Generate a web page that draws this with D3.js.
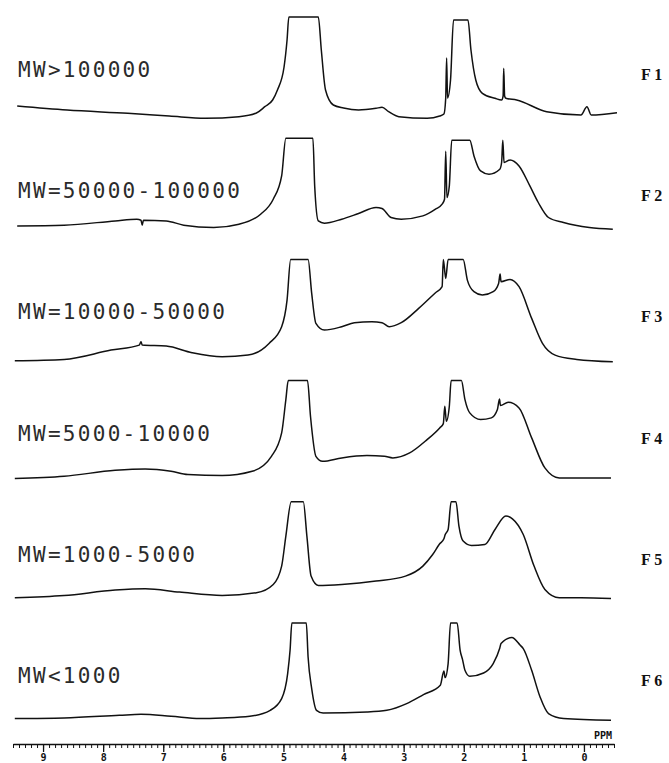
<!DOCTYPE html>
<html>
<head>
<meta charset="utf-8">
<script src="https://cdn.jsdelivr.net/npm/d3@7"></script>
<style>
  html, body { margin: 0; padding: 0; background: #fff; }
  svg { display: block; }
</style>
</head>
<body>
<svg id="chart" width="669" height="763"></svg>
<script>
// 1H NMR spectra of six molecular-weight fractions (relative intensity vs. chemical shift, ppm).
// Each series is a list of [ppm, intensity]; intensity 103 is the plotter's full-scale (clipped) level.

const fractionIds = ["F 1", "F 2", "F 3", "F 4", "F 5", "F 6"];
const fractionLabels = ["MW>100000", "MW=50000-100000", "MW=10000-50000", "MW=5000-10000", "MW=1000-5000", "MW<1000"];

const f1 = [
  [9.43,14],[8.6,10],[7.59,6.7],[6.9,4],[6.30,1.7],[5.74,3.3],[5.45,7],[5.31,13.3],[5.18,20],[5.10,30],
  [4.99,53],[4.94,80],[4.91,103],[4.42,103],[4.37,70],[4.30,30],[4.17,15],[4.0,12],[3.75,10],[3.46,11.7],
  [3.36,12.7],[3.25,8.3],[3.08,3.3],[2.61,1.7],[2.40,4],[2.33,6],[2.30,22],[2.285,62],[2.27,22],[2.22,40],
  [2.17,100],[1.93,100],[1.88,70],[1.80,40],[1.69,26.7],[1.48,21.7],[1.37,20],[1.345,24],[1.335,51.7],[1.32,24],
  [1.30,21.7],[1.12,20],[0.62,8.3],[0.05,5],[-0.05,13.3],[-0.12,5],[-0.55,7.3]
];

const f2 = [
  [9.43,15.3],[8.65,16],[7.80,20.3],[7.44,22],[7.37,21],[7.35,16],[7.33,21],[6.95,20.3],[6.66,16],[6.16,13.7],
  [5.74,17],[5.38,27],[5.17,42],[5.03,65.3],[4.96,103],[4.51,103],[4.48,55],[4.42,20.3],[4.32,18],[4.03,22],
  [3.75,27.7],[3.46,33.7],[3.36,32.7],[3.21,23.7],[3.04,22],[2.68,25.3],[2.47,32],[2.36,37],[2.32,42],[2.30,90],
  [2.28,43.7],[2.24,55.3],[2.20,101],[1.90,101],[1.83,85.3],[1.72,70.3],[1.58,67],[1.40,72],[1.37,78.7],[1.35,101],
  [1.33,78.7],[1.23,81.3],[1.08,75.3],[0.90,55.3],[0.76,38.7],[0.59,23.7],[0.34,18.7],[-0.09,13.7],[-0.48,12]
];

const f3 = [
  [9.47,1.7],[8.65,3],[7.87,12.3],[7.40,17.3],[7.37,20.7],[7.35,17.3],[6.95,16.3],[6.52,9.7],[6.02,5.7],[5.59,7.3],
  [5.24,19],[5.03,35.7],[4.94,62.3],[4.88,103],[4.59,103],[4.53,69],[4.46,39],[4.32,32.3],[4.03,35.7],[3.82,39.7],
  [3.53,40.7],[3.36,39.7],[3.24,35.7],[3.04,39.7],[2.75,54],[2.47,69.7],[2.36,75.7],[2.34,103],[2.30,84],[2.26,103],
  [2.01,103],[1.94,82.3],[1.83,70.7],[1.69,67.3],[1.51,70.7],[1.42,79],[1.395,88.3],[1.38,80.7],[1.23,83],[1.08,75.7],
  [0.87,44],[0.69,19],[0.48,7.3],[0.12,3],[-0.48,0.7]
];

const f4 = [
  [9.47,5],[8.65,7.3],[7.80,13.3],[7.30,14.7],[6.87,12.3],[6.59,9],[6.02,8],[5.52,12.3],[5.20,27.3],[5.03,50.7],
  [4.96,84],[4.92,103],[4.60,103],[4.55,67.3],[4.46,27.3],[4.35,22.3],[4.03,25.7],[3.61,28],[3.32,27.3],[3.18,25.7],
  [2.90,30.7],[2.61,44],[2.40,55.7],[2.34,60],[2.315,77.3],[2.29,62.3],[2.24,77.3],[2.21,103],[2.04,103],[1.98,84],
  [1.90,70.7],[1.72,64],[1.54,65.7],[1.44,74],[1.405,84.7],[1.39,78],[1.26,81.3],[1.08,75.7],[0.87,45.7],[0.65,15.7],
  [0.41,5.7],[0.05,5.7],[-0.45,5.7]
];

const f5 = [
  [9.47,7],[8.65,9.3],[7.80,14.7],[7.30,16],[6.73,12.7],[6.02,9.3],[5.45,12],[5.17,20.3],[5.03,38.7],[4.96,68.7],
  [4.87,103],[4.67,103],[4.61,68.7],[4.54,28.7],[4.42,19.3],[4.03,20.3],[3.46,23.7],[2.97,28.7],[2.68,38.7],[2.52,50],
  [2.40,61],[2.33,66],[2.31,70],[2.26,75.3],[2.21,103],[2.13,103],[2.08,78.7],[2.01,63.7],[1.87,59.3],[1.65,60.3],
  [1.48,75.3],[1.30,88.7],[1.19,86],[1.01,70.3],[0.83,38.7],[0.65,15.3],[0.41,7],[0.05,7],[-0.45,6.3]
];

const f6 = [
  [9.47,7.4],[8.65,8],[7.73,10.7],[7.37,11.7],[6.87,9.7],[6.39,7.4],[6.02,8],[5.56,9.7],[5.22,15.7],[5.03,27.4],
  [4.93,52.4],[4.89,75.7],[4.86,103],[4.62,103],[4.59,69],[4.53,37.4],[4.45,15.7],[4.34,13],[3.61,14],[3.28,15.7],
  [2.95,22.4],[2.67,31.4],[2.39,40.7],[2.33,55],[2.31,48.4],[2.26,62.4],[2.22,103],[2.11,103],[2.06,75.7],[2.02,66.4],
  [1.98,55.7],[1.90,49.7],[1.67,53],[1.51,62.4],[1.40,78],[1.38,82.4],[1.20,88.4],[1.06,80.7],[1.01,77.4],[0.87,55.7],
  [0.73,29],[0.59,12.4],[0.34,7.4],[-0.45,5.7]
];

const spectra = [f1, f2, f3, f4, f5, f6];
const majorTicks = [9, 8, 7, 6, 5, 4, 3, 2, 1, 0];
const axisUnit = "PPM";

// ---- layout ----
const svg = d3.select("#chart");
const x = d3.scaleLinear().domain([9.5, -0.5]).range([13, 614]);
const rows = d3.scaleBand().domain(fractionIds).range([17, 744.2]);
const fullScale = 103;
const axisY = 744;

const line = d3.line().curve(d3.curveMonotoneX);

spectra.forEach((data, i) => {
  const id = fractionIds[i];
  const top = rows(id);
  const y = d3.scaleLinear().domain([0, fullScale]).range([top + 103, top]);
  line.x(d => x(d[0])).y(d => y(d[1]));

  svg.append("path")
    .attr("d", line(data))
    .attr("fill", "none")
    .attr("stroke", "#111")
    .attr("stroke-width", 1.5)
    .attr("stroke-linejoin", "round");

  svg.append("text")
    .attr("x", 18)
    .attr("y", top + 60)
    .attr("font-family", "'DejaVu Sans Mono', monospace")
    .attr("font-size", 21)
    .attr("letter-spacing", 2.3)
    .attr("fill", "#2b2b2b")
    .text(fractionLabels[i]);

  svg.append("text")
    .attr("x", 641)
    .attr("y", top + 63)
    .attr("font-family", "'Liberation Serif', 'Times New Roman', serif")
    .attr("font-weight", "bold")
    .attr("font-size", 16)
    .attr("fill", "#111")
    .text(id);
});

// ---- chemical-shift ruler ----
const minorAxis = d3.axisBottom(x)
  .tickValues(d3.range(-5, 96).map(v => v / 10))
  .tickSize(4)
  .tickSizeOuter(0)
  .tickFormat("");

const gMinor = svg.append("g").attr("transform", `translate(0,${axisY})`).call(minorAxis);
gMinor.select(".domain").attr("stroke", "#111").attr("stroke-width", 1.6);
gMinor.selectAll(".tick line").attr("stroke", "#111").attr("stroke-width", 1);

const majorAxis = d3.axisBottom(x)
  .tickValues(majorTicks)
  .tickSize(8)
  .tickSizeOuter(0)
  .tickPadding(2)
  .tickFormat(d3.format("d"));

const gMajor = svg.append("g").attr("transform", `translate(0,${axisY})`).call(majorAxis);
gMajor.select(".domain").remove();
gMajor.selectAll(".tick line").attr("stroke", "#111").attr("stroke-width", 1.3);
gMajor.selectAll(".tick text")
  .attr("font-family", "'DejaVu Sans Mono', monospace")
  .attr("font-weight", "bold")
  .attr("font-size", 10)
  .attr("fill", "#111");

svg.append("text")
  .attr("x", 612)
  .attr("y", 739)
  .attr("text-anchor", "end")
  .attr("font-family", "'DejaVu Sans Mono', monospace")
  .attr("font-weight", "bold")
  .attr("font-size", 10)
  .attr("fill", "#111")
  .text(axisUnit);
</script>
</body>
</html>
